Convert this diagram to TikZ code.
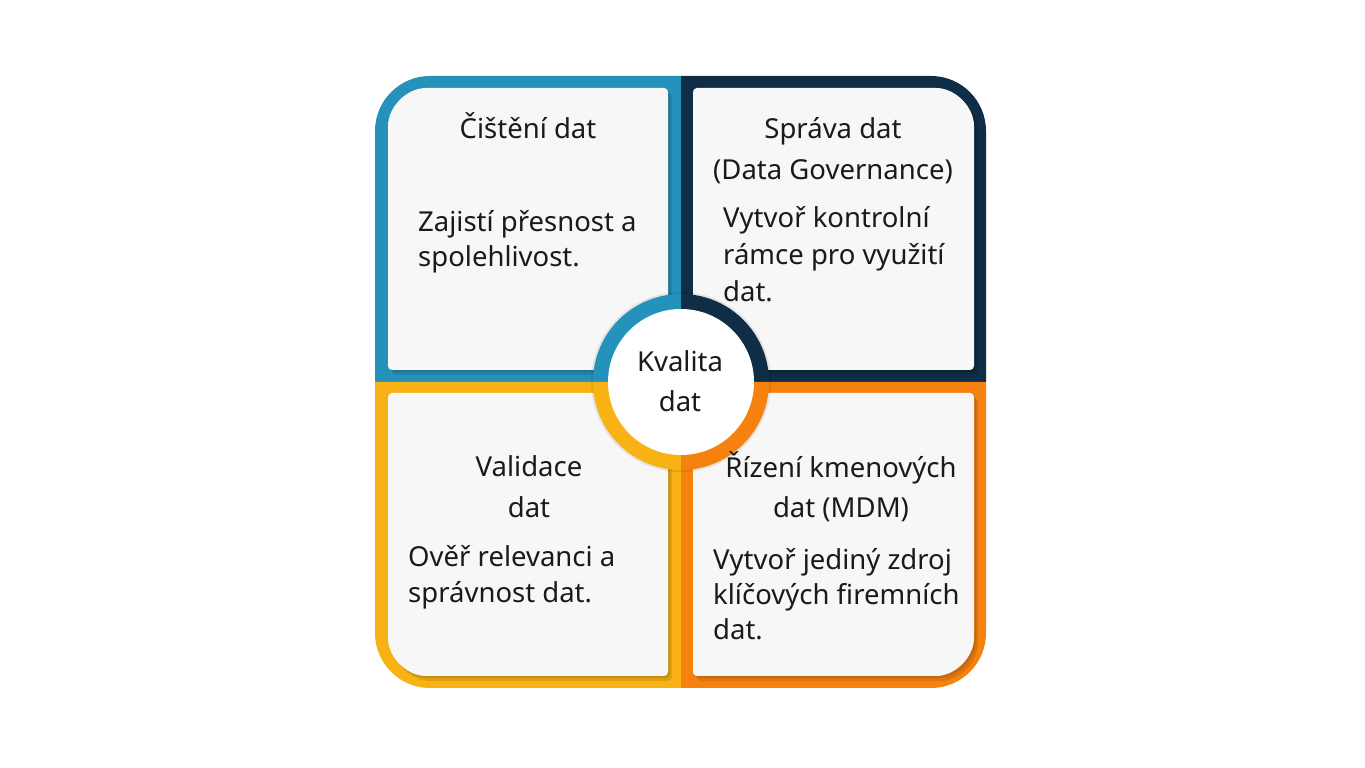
\documentclass[tikz,border=0pt]{standalone}
\usepackage{fontspec}
\setmainfont{Noto Sans}
\definecolor{cteal}{HTML}{2492BA}
\definecolor{cnavy}{HTML}{0F2D46}
\definecolor{cyel}{HTML}{F8B214}
\definecolor{corg}{HTML}{F5820F}
\definecolor{ccard}{HTML}{F7F7F7}
\definecolor{ctext}{HTML}{1A1A1A}
\begin{document}
\begin{tikzpicture}[x=1pt,y=1pt,
  cardfill/.style={fill=ccard,rounded corners=4},
  cardshadow/.style={fill=black,fill opacity=0.10,rounded corners=4},
  txt/.style={inner sep=0pt,text=ctext,font=\fontsize{27.5}{33}\selectfont},
  title/.style={txt,anchor=base},
  body/.style={txt,anchor=base west}]
\useasboundingbox (0,0) rectangle (1365,768);
\fill[white] (0,0) rectangle (1365,768);
% coloured quadrants
\fill[cteal] (681,386) -- (375,386) -- (375,637) arc[start angle=180,end angle=90,radius=55] -- (681,692) -- cycle;
\fill[cnavy] (681,386) -- (681,692) -- (931,692) arc[start angle=90,end angle=0,radius=55] -- (986,386) -- cycle;
\fill[cyel] (681,386) -- (681,80) -- (430,80) arc[start angle=270,end angle=180,radius=55] -- (375,386) -- cycle;
\fill[corg] (681,386) -- (986,386) -- (986,135) arc[start angle=0,end angle=-90,radius=55] -- (681,80) -- cycle;
% card shadows
\foreach \dx/\dy in {2/-2,4/-5}{
\begin{scope}[shift={(\dx,\dy)}]
\fill[cardshadow] (668,398) -- (388,398) -- (388,638) arc[start angle=180,end angle=90,radius=42] -- (668,680) -- cycle;
\fill[cardshadow] (693,398) -- (693,680) -- (932,680) arc[start angle=90,end angle=0,radius=42] -- (974,398) -- cycle;
\fill[cardshadow] (668,375) -- (668,92) -- (430,92) arc[start angle=270,end angle=180,radius=42] -- (388,375) -- cycle;
\fill[cardshadow] (693,375) -- (974,375) -- (974,134) arc[start angle=0,end angle=-90,radius=42] -- (693,92) -- cycle;
\end{scope}}
% cards
\fill[cardfill] (668,398) -- (388,398) -- (388,638) arc[start angle=180,end angle=90,radius=42] -- (668,680) -- cycle;
\fill[cardfill] (693,398) -- (693,680) -- (932,680) arc[start angle=90,end angle=0,radius=42] -- (974,398) -- cycle;
\fill[cardfill] (668,375) -- (668,92) -- (430,92) arc[start angle=270,end angle=180,radius=42] -- (388,375) -- cycle;
\fill[cardfill] (693,375) -- (974,375) -- (974,134) arc[start angle=0,end angle=-90,radius=42] -- (693,92) -- cycle;
% centre ring
\fill[black,opacity=0.08] (681,386) circle[radius=90];
\fill[cteal] (681,386) -- (593,386) arc[start angle=180,end angle=90,radius=88] -- cycle;
\fill[cnavy] (681,386) -- (681,474) arc[start angle=90,end angle=0,radius=88] -- cycle;
\fill[cyel] (681,386) -- (681,298) arc[start angle=270,end angle=180,radius=88] -- cycle;
\fill[corg] (681,386) -- (769,386) arc[start angle=0,end angle=-90,radius=88] -- cycle;
\fill[white] (681,386) circle[radius=73];
% texts
\node[title] (c1) at (680,396) {Kvalita};
\node[title] (c2) at (680,356) {dat};
\node[title] (t1) at (528,629) {Čištění dat};
\node[body] (b1a) at (418,536) {Zajistí přesnost a};
\node[body] (b1b) at (418,501) {spolehlivost.};
\node[title] (t2a) at (833,629) {Správa dat};
\node[title] (t2b) at (833,588) {(Data Governance)};
\node[body] (b2a) at (723,540) {Vytvoř kontrolní};
\node[body] (b2b) at (723,503) {rámce pro využití};
\node[body] (b2c) at (723,466) {dat.};
\node[title] (t3a) at (529,291) {Validace};
\node[title] (t3b) at (529,250) {dat};
\node[body] (b3a) at (408,201) {Ověř relevanci a};
\node[body] (b3b) at (408,165) {správnost dat.};
\node[title] (t4a) at (841,290) {Řízení kmenových};
\node[title] (t4b) at (841,250) {dat (MDM)};
\node[body] (b4a) at (713,198) {Vytvoř jediný zdroj};
\node[body] (b4b) at (713,163) {klíčových firemních};
\node[body] (b4c) at (713,128) {dat.};
\end{tikzpicture}
\end{document}
